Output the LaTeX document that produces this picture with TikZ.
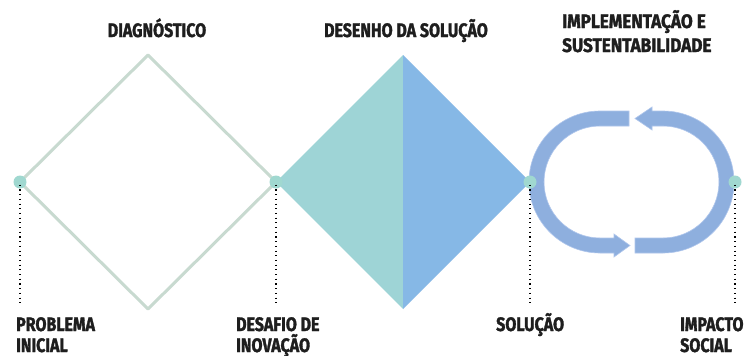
\documentclass[tikz,border=0pt]{standalone}
\usepackage{fontspec}
\newfontfamily\lblfont{Fira Sans}[FakeStretch=0.82, UprightFont=* Bold, FakeBold=1.6]
\newfontfamily\lblwide{Fira Sans}[FakeStretch=0.88, UprightFont=* Bold, FakeBold=1.6]
\definecolor{outl}{RGB}{200,218,208}
\definecolor{teal1}{RGB}{158,212,214}
\definecolor{blue1}{RGB}{134,184,230}
\definecolor{dotc}{RGB}{160,216,208}
\definecolor{cyc}{RGB}{142,175,222}
\definecolor{cycedge}{RGB}{175,198,236}
\definecolor{txt}{RGB}{30,30,30}
\begin{document}
\begin{tikzpicture}[x=1pt,y=-1pt,
  lbl/.style={font=\lblfont\fontsize{19.5}{22}\selectfont, text=txt, inner sep=0pt, anchor=base west},
  lblw/.style={lbl, font=\lblwide\fontsize{19.5}{22}\selectfont},
  lblc/.style={lbl, anchor=base},
  pt/.style={circle, fill=dotc, minimum size=13pt, inner sep=0pt},
  guide/.style={line width=1.1pt, dash pattern=on 1.1pt off 3.6pt, black},
  cycshape/.style={fill=cyc, draw=cycedge, line width=0.6pt, line join=miter}]
\useasboundingbox (0,0) rectangle (745,356);
\fill[white] (0,0) rectangle (745,356);
% coordinates
\coordinate (d1l) at (20,182);
\coordinate (d1t) at (148,55);
\coordinate (d1r) at (276,182);
\coordinate (d1b) at (148,309);
\coordinate (d2t) at (403,55);
\coordinate (d2r) at (530,182);
\coordinate (d2b) at (403,309);
% diamond 1 outline
\draw[outl, line width=3pt, line join=round] (d1l) -- (d1t) -- (d1r) -- (d1b) -- cycle;
% diamond 2 halves
\fill[teal1] (d1r) -- (d2t) -- (d2b) -- cycle;
\fill[blue1] (d2t) -- (d2r) -- (d2b) -- cycle;
% cycle arrows
\path[cycshape] (629,111) -- (600,111) arc[start angle=270, end angle=90, radius=71]
  -- (614,253) -- (614,257) -- (630,245.5) -- (614,234) -- (614,238) -- (600,238)
  arc[start angle=90, end angle=270, radius=56] -- (629,126) -- cycle;
\path[cycshape] (635,238) -- (663,238) arc[start angle=90, end angle=-90, radius=56]
  -- (652,126) -- (652,130) -- (635,118.5) -- (652,107) -- (652,111) -- (663,111)
  arc[start angle=-90, end angle=90, radius=71] -- (635,253) -- cycle;
% dots
\node[pt] (p1) at (20,182) {};
\node[pt] (p2) at (276,182) {};
\node[pt] (p3) at (530,182) {};
\node[pt] (p4) at (735,182) {};
\coordinate (e1) at (20,306);
\coordinate (e2) at (276,306);
\coordinate (e3) at (530,306);
\coordinate (e4) at (735,306);
\draw[guide] ([yshift=4pt]p1.south) -- (e1);
\draw[guide] ([yshift=4pt]p2.south) -- (e2);
\draw[guide] ([yshift=4pt]p3.south) -- (e3);
\draw[guide] ([yshift=4pt]p4.south) -- (e4);
% labels
\node[lblc] (t1) at (157,37) {DIAGNÓSTICO};
\node[lblc] (t2) at (406,37) {DESENHO DA SOLUÇÃO};
\node[lblw] (t3a) at (562,28) {IMPLEMENTAÇÃO E};
\node[lblw] (t3b) at (562,52) {SUSTENTABILIDADE};
\node[lbl] (b1a) at (16,331) {PROBLEMA};
\node[lbl] (b1b) at (16,352) {INICIAL};
\node[lbl] (b2a) at (236,331) {DESAFIO DE};
\node[lbl] (b2b) at (236,352) {INOVAÇÃO};
\node[lbl] (b3) at (496,331) {SOLUÇÃO};
\node[lbl] (b4a) at (680,331) {IMPACTO};
\node[lbl] (b4b) at (680,352) {SOCIAL};
\end{tikzpicture}
\end{document}
